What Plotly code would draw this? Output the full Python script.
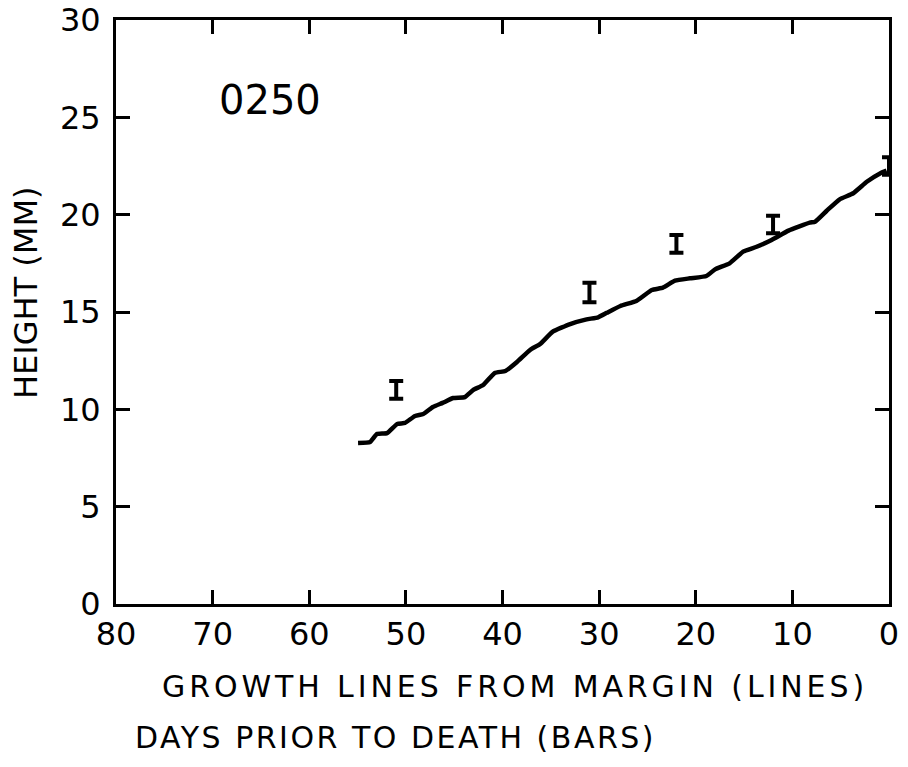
import plotly.graph_objects as go

# Growth line (lines from margin vs height)
line_x = [54.95, 53.7, 53.0, 51.95, 50.9, 50.1, 49.05, 48.2, 47.2, 46.2, 45.1, 43.9, 43.05, 42.0,
          40.8, 39.7, 38.5, 37.15, 36.1, 34.8, 33.0, 31.3, 30.1, 29.2, 27.8, 26.1, 24.55, 23.4,
          22.15, 20.6, 18.9, 18.0, 16.5, 15.1, 13.7, 12.15, 10.4, 8.2, 7.65, 6.45, 5.1, 3.7, 2.3,
          0.93, 0.25]
line_y = [8.27, 8.32, 8.73, 8.78, 9.25, 9.30, 9.66, 9.76, 10.12, 10.33, 10.58, 10.63, 10.99, 11.25,
          11.87, 11.97, 12.43, 13.05, 13.36, 13.99, 14.38, 14.62, 14.73, 14.96, 15.31, 15.58, 16.13,
          16.25, 16.61, 16.73, 16.85, 17.19, 17.50, 18.10, 18.35, 18.70, 19.18, 19.59, 19.64, 20.20,
          20.79, 21.10, 21.69, 22.12, 22.26]

# Bars (days prior to death)
bar_x = [51, 31, 22, 12, 0]
bar_y = [11.0, 16.0, 18.5, 19.5, 22.5]
bar_err = [0.45, 0.5, 0.45, 0.45, 0.45]

x_ticks = [80, 70, 60, 50, 40, 30, 20, 10, 0]
x_ticklabels = ["80", "70", "60", "50", "40", "30", "20", "10", "0"]
y_ticks = [0, 5, 10, 15, 20, 25, 30]

FONT = "DejaVu Sans"

fig = go.Figure()
fig.add_trace(go.Scatter(x=line_x, y=line_y, mode="lines",
                         line=dict(color="black", width=4.5, shape="spline", smoothing=0.4),
                         hoverinfo="skip", showlegend=False))
fig.add_trace(go.Scatter(x=bar_x, y=bar_y, mode="markers",
                         marker=dict(size=1, color="rgba(0,0,0,0)"),
                         error_y=dict(type="data", array=bar_err, color="black",
                                      thickness=4, width=7),
                         showlegend=False))

axis_common = dict(showline=True, linecolor="black", linewidth=3, mirror="ticks",
                   ticks="inside", ticklen=14, tickwidth=2.5, tickcolor="black",
                   showgrid=False, zeroline=False, automargin=False,
                   tickfont=dict(family=FONT, size=32, color="black"))

fig.update_xaxes(range=[80, 0], tickvals=x_ticks, ticktext=x_ticklabels,
                 ticklabelstandoff=0, **axis_common)
fig.update_yaxes(range=[0, 30], tickvals=y_ticks, ticklabelstandoff=6, **axis_common)

W, H = 908, 767
L, R, T, B = 116, 19, 20, 163
PW, PH = W - L - R, H - T - B


def px_x(p):
    return (p - L) / PW


def px_y(p):
    return 1 - (p - T) / PH


def spaced(text, sp):
    return '<span style="letter-spacing:{}px">{}</span>'.format(sp, text)


fig.update_layout(
    width=W, height=H,
    margin=dict(l=L, r=R, t=T, b=B),
    plot_bgcolor="white", paper_bgcolor="white",
    annotations=[
        dict(text="0250", x=69.5, y=25.9, xref="x", yref="y", showarrow=False,
             xanchor="left", yanchor="middle",
             font=dict(family=FONT, size=40, color="black")),
        dict(text="HEIGHT (MM)", x=px_x(26), y=px_y(293), xref="paper", yref="paper",
             showarrow=False, textangle=-90, xanchor="center", yanchor="middle",
             font=dict(family=FONT, size=32, color="black")),
        dict(text=spaced("GROWTH LINES FROM MARGIN (LINES)", 3.9), x=px_x(160), y=px_y(686),
             xref="paper", yref="paper", showarrow=False,
             xanchor="left", yanchor="middle",
             font=dict(family=FONT, size=30, color="black")),
        dict(text=spaced("DAYS PRIOR TO DEATH (BARS)", 2.5), x=px_x(133), y=px_y(737),
             xref="paper", yref="paper", showarrow=False,
             xanchor="left", yanchor="middle",
             font=dict(family=FONT, size=30, color="black")),
    ],
)

fig.write_html("out.html")
